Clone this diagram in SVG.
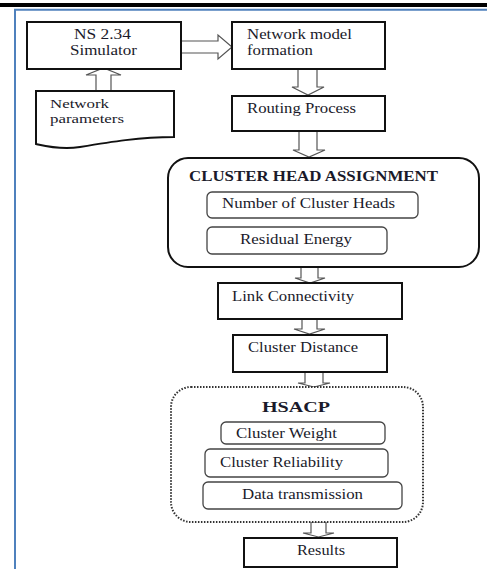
<svg xmlns="http://www.w3.org/2000/svg" width="487" height="569" viewBox="0 0 487 569">
<style>
.box{fill:#fff;stroke:#111;stroke-width:2}
.sub{fill:#fff;stroke:#444;stroke-width:1.3}
.arr{fill:#fff;stroke:#555;stroke-width:1.2;stroke-linejoin:miter}
text{font-family:"Liberation Serif","Times New Roman","DejaVu Serif",serif;font-size:14.5px;fill:#1a1a2a}
.b{font-weight:bold}
.s{font-size:13px}
</style>
<rect x="0" y="3" width="487" height="4" fill="#000"/>
<line x1="14" y1="9.7" x2="487" y2="9.7" stroke="#4f81bd" stroke-width="2"/>
<line x1="15" y1="9" x2="15" y2="569" stroke="#4f81bd" stroke-width="2"/>
<g id="connectors">
<polygon class="arr" points="181,41 218,41 218,35 232,47 218,59 218,53 181,53"/>
<polygon class="arr" points="96,91 96,75 86,75 103.5,68 121,75 111,75 111,91"/>
<polygon class="arr" points="298,69 298,87 292,87 308,95 324,87 317,87 317,69"/>
<polygon class="arr" points="299,131 299,150 293,150 309,157 325,150 317,150 317,131"/>
<polygon class="arr" points="301,267 301,278 295,278 310,283 325,278 318,278 318,267"/>
<polygon class="arr" points="302,319 302,329 294,329 309.5,334 325,329 317,329 317,319"/>
<polygon class="arr" points="305,372 305,383 298,383 314,387 330,383 323,383 323,372"/>
<polygon class="arr" points="311,522 311,533 303,533 318.5,537 334,533 326,533 326,522"/>
</g>
<g id="ns">
<rect class="box" x="27" y="22" width="154" height="47"/>
<text x="102.5" y="39" text-anchor="middle" textLength="57" lengthAdjust="spacingAndGlyphs">NS 2.34</text>
<text x="103.5" y="55" text-anchor="middle" textLength="67" lengthAdjust="spacingAndGlyphs">Simulator</text>
</g>
<g id="params">
<path class="box" d="M36,91 H174 V137 C140,137 110,142 80,147 C60,150 45,146 36,144 Z"/>
<text class="s" x="50" y="108" textLength="59" lengthAdjust="spacingAndGlyphs">Network</text>
<text class="s" x="50" y="123" textLength="74" lengthAdjust="spacingAndGlyphs">parameters</text>
</g>
<g id="model">
<rect class="box" x="232" y="22" width="153" height="47"/>
<text x="247" y="39" textLength="105" lengthAdjust="spacingAndGlyphs">Network model</text>
<text x="247" y="55" textLength="66" lengthAdjust="spacingAndGlyphs">formation</text>
</g>
<g id="routing">
<rect class="box" x="232" y="96" width="153" height="35"/>
<text x="247" y="113" textLength="109" lengthAdjust="spacingAndGlyphs">Routing Process</text>
</g>
<g id="cha">
<rect class="box" x="168" y="158" width="311" height="109" rx="20" ry="20"/>
<text class="b" x="189" y="181" font-size="12.5" textLength="249" lengthAdjust="spacingAndGlyphs">CLUSTER HEAD ASSIGNMENT</text>
</g>
<g id="nch">
<rect class="sub" x="207" y="192" width="211" height="26" rx="5"/>
<text x="222" y="208" textLength="173" lengthAdjust="spacingAndGlyphs">Number of Cluster Heads</text>
</g>
<g id="re">
<rect class="sub" x="207" y="227" width="180" height="27" rx="5"/>
<text x="240" y="244" textLength="112" lengthAdjust="spacingAndGlyphs">Residual Energy</text>
</g>
<g id="link">
<rect class="box" x="218" y="283" width="184" height="36"/>
<text x="232" y="301" textLength="122" lengthAdjust="spacingAndGlyphs">Link Connectivity</text>
</g>
<g id="cd">
<rect class="box" x="233" y="335" width="154" height="37"/>
<text x="248" y="352" textLength="110" lengthAdjust="spacingAndGlyphs">Cluster Distance</text>
</g>
<g id="hsacp">
<rect x="171" y="387" width="252" height="135" rx="20" ry="20" fill="#fff" stroke="#333" stroke-width="2" stroke-dasharray="1.5 1.5"/>
<text class="b" x="262" y="412" font-size="15" textLength="68" lengthAdjust="spacingAndGlyphs">HSACP</text>
</g>
<g id="cw">
<rect class="sub" x="221" y="422" width="164" height="22" rx="5"/>
<text x="236" y="438" textLength="101" lengthAdjust="spacingAndGlyphs">Cluster Weight</text>
</g>
<g id="cr">
<rect class="sub" x="205" y="449" width="183" height="28" rx="5"/>
<text x="220" y="467" textLength="123" lengthAdjust="spacingAndGlyphs">Cluster Reliability</text>
</g>
<g id="dt">
<rect class="sub" x="203" y="482" width="199" height="27" rx="5"/>
<text x="242" y="499" textLength="121" lengthAdjust="spacingAndGlyphs">Data transmission</text>
</g>
<g id="results">
<rect class="box" x="244" y="538" width="153" height="29"/>
<text x="297" y="555" textLength="48" lengthAdjust="spacingAndGlyphs">Results</text>
</g>
</svg>
